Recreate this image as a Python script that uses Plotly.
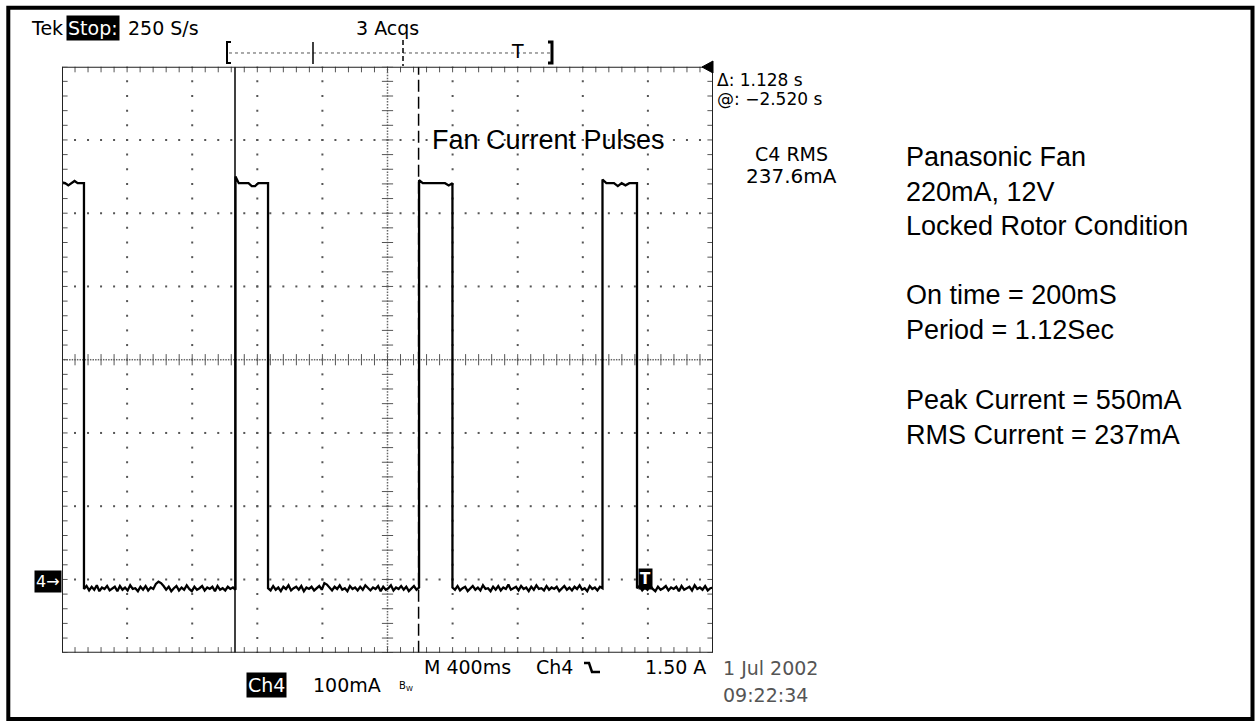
import numpy as np
import plotly.graph_objects as go

W, H = 1255, 725

# ---------------- scope settings ----------------
time_per_div_s = 0.4
current_per_div_mA = 100
n_xdiv, n_ydiv = 10, 8
ground_div = 1                      # ground marker one division above the bottom
record_end_s = time_per_div_s * n_xdiv

# ---------------- waveform ----------------
pulse_rise_s = [0.0, 1.066, 2.194, 3.321]
pulse_fall_s = [0.135, 1.266, 2.399, 3.533]

pulse1_top_mA = [542, 541, 538, 541, 544, 541, 541, 541]
pulse2_top_mA = [550, 541, 541, 541, 541, 537, 537, 541, 541, 541, 541]
pulse3_top_mA = [545, 541, 541, 541, 541, 541, 541, 541, 538, 541]
pulse4_top_mA = [546, 541, 541, 541, 537, 541, 538, 541, 541, 541]

baseline1_mA = [-13, -9, -15, -10, -14, -8, -16, -11, -13, -9, -15, -12, -10, -16, -9, -14, -11, -15, -8, -13,
                -12, -16, -10, -14, -9, -15, -11, -13, -6, -3, -5, -9, -14, -10, -16, -12, -9, -15, -11, -14,
                -8, -13, -16, -10, -14, -12, -9, -15, -11, -13, -10, -16, -9, -14, -12, -15, -10, -13, -11, -14]
baseline2_mA = [-12, -15, -9, -14, -11, -16, -10, -13, -8, -15, -12, -10, -14, -9, -16, -11, -13, -10, -15, -12,
                -9, -14, -5, -7, -11, -15, -10, -13, -8, -14, -12, -16, -9, -13, -11, -15, -10, -14, -8, -12,
                -15, -11, -13, -9, -16, -10, -14, -12, -8, -15, -11, -13, -9, -14, -10, -16, -12, -9, -14, -11]
baseline3_mA = [-11, -14, -9, -15, -12, -10, -16, -13, -9, -14, -11, -15, -8, -13, -12, -16, -10, -14, -9, -15,
                -11, -13, -7, -14, -12, -10, -15, -9, -13, -11, -16, -10, -14, -8, -13, -12, -15, -9, -14, -11,
                -13, -10, -16, -12, -9, -14, -11, -15, -10, -13, -8, -14, -12, -16, -9, -13, -11, -15, -10, -12]
baseline4_mA = [-12, -9, -15, -11, -14, -8, -13, -16, -10, -14, -12, -9, -15, -11, -13, -10, -16, -9, -14, -12,
                -10, -15, -8, -13, -11, -14, -9, -15, -12, -11]

cursor_s = [1.063, 2.191]
trigger_s = 3.583

# ---------------- build the trace ----------------
tops = [pulse1_top_mA, pulse2_top_mA, pulse3_top_mA, pulse4_top_mA]
bases = [baseline1_mA, baseline2_mA, baseline3_mA, baseline4_mA]
seg_end = pulse_rise_s[1:] + [record_end_s]
t_trace, i_trace = [], []
for k in range(4):
    t_trace += list(np.linspace(pulse_rise_s[k], pulse_fall_s[k], len(tops[k])))
    i_trace += tops[k]
    t_trace += list(np.linspace(pulse_fall_s[k], seg_end[k], len(bases[k])))
    i_trace += bases[k]

y_lo = -ground_div * current_per_div_mA
y_hi = y_lo + n_ydiv * current_per_div_mA
x_lo, x_hi = 0.0, record_end_s
x_c = (x_lo + x_hi) / 2
y_c = (y_lo + y_hi) / 2

fig = go.Figure()

# ---------------- graticule ----------------
dx_min = time_per_div_s / 5
dy_min = current_per_div_mA / 5
x_minor = np.arange(0, n_xdiv * 5 + 1) * dx_min + x_lo
y_minor = np.arange(0, n_ydiv * 5 + 1) * dy_min + y_lo
gx, gy = [], []
for k in range(1, n_xdiv):
    if k == n_xdiv // 2:
        continue
    gx += [x_lo + k * time_per_div_s] * len(y_minor)
    gy += list(y_minor)
for k in range(1, n_ydiv):
    if k == n_ydiv // 2:
        continue
    gx += list(x_minor)
    gy += [y_lo + k * current_per_div_mA] * len(x_minor)
dot = dict(color="#555", size=2, symbol="square", line=dict(width=0))
fig.add_trace(go.Scatter(x=gx, y=gy, mode="markers", marker=dot, hoverinfo="skip", showlegend=False))

# centre lines (dense dots)
xd = np.arange(0, n_xdiv * 25 + 1) * (time_per_div_s / 25) + x_lo
yd = np.arange(0, n_ydiv * 25 + 1) * (current_per_div_mA / 25) + y_lo
fig.add_trace(go.Scatter(x=list(xd) + [x_c] * len(yd), y=[y_c] * len(xd) + list(yd), mode="markers",
                         marker=dict(color="#666", size=1.5, symbol="square", line=dict(width=0)),
                         hoverinfo="skip", showlegend=False))
tickv = dict(symbol="line-ns", size=8, line=dict(width=1, color="#555"))
tickh = dict(symbol="line-ew", size=8, line=dict(width=1, color="#555"))
fig.add_trace(go.Scatter(x=list(x_minor) * 3, y=[y_c] * len(x_minor) + [y_lo] * len(x_minor) + [y_hi] * len(x_minor),
                         mode="markers", marker=tickv, hoverinfo="skip", showlegend=False))
fig.add_trace(go.Scatter(x=[x_c] * len(y_minor) + [x_lo] * len(y_minor) + [x_hi] * len(y_minor), y=list(y_minor) * 3,
                         mode="markers", marker=tickh, hoverinfo="skip", showlegend=False))

# ---------------- cursors ----------------
fig.add_trace(go.Scatter(x=[cursor_s[0]] * 2, y=[y_lo, y_hi], mode="lines",
                         line=dict(color="black", width=1.5), hoverinfo="skip", showlegend=False))
fig.add_trace(go.Scatter(x=[cursor_s[1]] * 2, y=[y_lo, y_hi], mode="lines",
                         line=dict(color="black", width=1.5, dash="12px,5px"), hoverinfo="skip", showlegend=False))

# ---------------- waveform ----------------
fig.add_trace(go.Scatter(x=t_trace, y=i_trace, mode="lines", line=dict(color="black", width=2.3),
                         hoverinfo="skip", showlegend=False))

# ---------------- layout ----------------
x0p, x1p = 62 / W, 713 / W
y0p, y1p = 1 - 652.7 / H, 1 - 66.7 / H
fig.update_layout(
    width=W, height=H, autosize=False,
    margin=dict(l=0, r=0, t=0, b=0),
    paper_bgcolor="white", plot_bgcolor="white",
    xaxis=dict(range=[x_lo, x_hi], domain=[x0p, x1p], showgrid=False, zeroline=False,
               showticklabels=False, ticks="", showline=False, fixedrange=True),
    yaxis=dict(range=[y_lo, y_hi], domain=[y0p, y1p], showgrid=False, zeroline=False,
               showticklabels=False, ticks="", showline=False, fixedrange=True),
)


def P(x, y):
    return x / W, 1 - y / H


def pth(points, close=False):
    s = ""
    for i, (x, y) in enumerate(points):
        px, py = P(x, y)
        s += ("M" if i == 0 else "L") + f"{px:.5f},{py:.5f}"
    return s + ("Z" if close else "")


shapes = []
# plot frame
shapes.append(dict(type="rect", xref="x", yref="y", x0=x_lo, x1=x_hi, y0=y_lo, y1=y_hi,
                   line=dict(color="#222", width=2)))
# outer border
bx0, by1 = P(8.3, 7.7)
bx1, by0 = P(1252.5, 719)
shapes.append(dict(type="rect", xref="paper", yref="paper", x0=bx0, x1=bx1, y0=by0, y1=by1,
                   line=dict(color="black", width=4)))
# record bar
shapes.append(dict(type="path", xref="paper", yref="paper", path=pth([(231, 42), (227, 42), (227, 63), (231, 63)]),
                   line=dict(color="black", width=2)))
shapes.append(dict(type="path", xref="paper", yref="paper", path=pth([(548, 42), (552, 42), (552, 63), (548, 63)]),
                   line=dict(color="black", width=3)))
shapes.append(dict(type="path", xref="paper", yref="paper", path=pth([(229, 53), (550, 53)]),
                   line=dict(color="#555", width=1, dash="dot")))
shapes.append(dict(type="path", xref="paper", yref="paper", path=pth([(313, 42), (313, 64)]),
                   line=dict(color="black", width=1.5)))
shapes.append(dict(type="path", xref="paper", yref="paper", path=pth([(403, 40), (403, 66)]),
                   line=dict(color="black", width=1.5, dash="5px,3px")))
# trigger level arrow
shapes.append(dict(type="path", xref="paper", yref="paper", path=pth([(702, 67), (713, 61), (713, 73)], True),
                   fillcolor="black", line=dict(color="black", width=1)))
# trigger slope glyph
shapes.append(dict(type="path", xref="paper", yref="paper", path=pth([(584, 663), (589, 663), (592, 672), (600, 672)]),
                   line=dict(color="black", width=2.5)))
fig.update_layout(shapes=shapes)

TEK = "DejaVu Sans"
ARIAL = "Liberation Sans"


def ann(text, x, y, size=19, family=TEK, xanchor="left", color="black", bg=None, pad=1):
    px, py = P(x, y)
    d = dict(text=text, x=px, y=py, xref="paper", yref="paper", xanchor=xanchor, yanchor="middle",
             showarrow=False, font=dict(family=family, size=size, color=color), borderpad=pad)
    if bg:
        d["bgcolor"] = bg
    return d


anns = [
    ann("Tek", 29, 28),
    ann("Stop:", 66, 28, color="white", bg="black"),
    ann("250 S/s", 126, 28),
    ann("3 Acqs", 387, 28, xanchor="center"),
    ann("T", 517, 51, size=19, xanchor="center"),
    ann("Δ: 1.128 s", 716, 80, size=17, pad=0),
    ann("@: −2.520 s", 716, 99, size=17, pad=0),
    ann("Fan Current Pulses", 430, 140, size=27, family=ARIAL),
    ann("C4 RMS", 791, 154, xanchor="center"),
    ann("237.6mA", 791, 176, size=20, xanchor="center"),
    ann("4→", 47.5, 581, size=16, xanchor="center", color="white", bg="black"),
    ann("Ch4", 266.5, 685, xanchor="center", color="white", bg="black"),
    ann("100mA", 311, 685),
    ann("B<sub>W</sub>", 397, 686, size=10),
    ann("M 400ms", 422, 667),
    ann("Ch4", 534, 667),
    ann("1.50 A", 708, 667, xanchor="right"),
    ann("1 Jul 2002", 721, 668, color="#555"),
    ann("09:22:34", 721, 695, color="#555"),
]
right_lines = [("Panasonic Fan", 157), ("220mA, 12V", 192), ("Locked Rotor Condition", 226),
               ("On time = 200mS", 295), ("Period = 1.12Sec", 330),
               ("Peak Current = 550mA", 400), ("RMS Current = 237mA", 435)]
for txt, yy in right_lines:
    anns.append(ann(txt, 904, yy, size=27, family=ARIAL))

# trigger point marker on the trace
anns.append(dict(text="<b>T</b>", x=trigger_s, y=0, xref="x", yref="y", xanchor="center", yanchor="middle",
                 showarrow=False, font=dict(family=TEK, size=15, color="white"), bgcolor="black", borderpad=1))
fig.update_layout(annotations=anns)

fig.write_html("out.html", config={"displayModeBar": False},
               post_script="document.body.style.margin='0px';")
